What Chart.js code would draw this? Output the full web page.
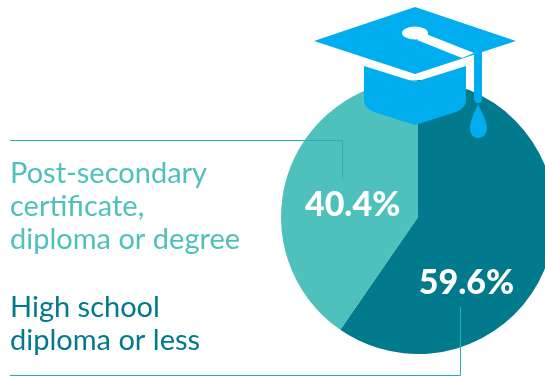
<!DOCTYPE html>
<html>
<head>
<meta charset="utf-8">
<style>
    html, body { margin: 0; padding: 0; background: #fff; overflow: hidden; }
    #wrap { position: relative; width: 545px; height: 376px; overflow: hidden; }
    /* canvas runs past the right edge so the pie can be cropped there */
    #chart { position: absolute; left: 0; top: 0; }
</style>
</head>
<body>
<div id="wrap"><canvas id="chart" width="836" height="434"></canvas></div>
<script src="https://cdn.jsdelivr.net/npm/chart.js@4/dist/chart.umd.min.js"></script>
<script>
    var categories = ['High school diploma or less', 'Post-secondary certificate, diploma or degree'];
    var shares = [59.6, 40.4];
    var sliceColors = ['#007a8c', '#4ec1bc'];

    var captionLines = [
        ['Post-secondary', 'certificate,', 'diploma or degree'],
        ['High school', 'diploma or less']
    ];
    var captionColors = ['#4ec1bc', '#007a8c'];

    var HAT_BLUE = '#00aeef';

    function drawLeaders(ctx) {
        ctx.save();
        ctx.strokeStyle = '#2aafb0';
        ctx.lineWidth = 1;
        ctx.beginPath();
        ctx.moveTo(10, 140.5);
        ctx.lineTo(342.5, 140.5);
        ctx.lineTo(342.5, 179);
        ctx.stroke();
        ctx.beginPath();
        ctx.moveTo(10, 375.5);
        ctx.lineTo(460.5, 375.5);
        ctx.lineTo(460.5, 307);
        ctx.stroke();
        ctx.restore();
    }

    function drawHat(ctx) {
        ctx.save();
        ctx.fillStyle = HAT_BLUE;

        // cap body
        ctx.beginPath();
        ctx.moveTo(364, 66);
        ctx.lineTo(415, 82);
        ctx.lineTo(466, 66);
        ctx.lineTo(466, 100);
        ctx.quadraticCurveTo(466, 108, 456, 112);
        ctx.lineTo(415, 125);
        ctx.lineTo(374, 112);
        ctx.quadraticCurveTo(364, 108, 364, 100);
        ctx.closePath();
        ctx.fill();

        // board
        ctx.beginPath();
        ctx.moveTo(415, 7);
        ctx.lineTo(516, 41);
        ctx.lineTo(415, 74);
        ctx.lineTo(314, 41);
        ctx.closePath();
        ctx.fill();

        // white cord and button cut into the board
        ctx.fillStyle = '#fff';
        ctx.beginPath();
        ctx.moveTo(426, 34);
        ctx.lineTo(474, 53);
        ctx.lineTo(462, 58);
        ctx.lineTo(417, 40);
        ctx.closePath();
        ctx.fill();
        ctx.beginPath();
        ctx.ellipse(415, 33, 13, 6.5, 0, 0, Math.PI * 2);
        ctx.fill();

        // tassel
        ctx.fillStyle = HAT_BLUE;
        ctx.beginPath();
        ctx.moveTo(474, 53);
        ctx.lineTo(482, 51);
        ctx.lineTo(482, 98);
        ctx.quadraticCurveTo(482, 103, 478, 103);
        ctx.quadraticCurveTo(474, 103, 474, 98);
        ctx.closePath();
        ctx.fill();
        ctx.beginPath();
        ctx.moveTo(478, 104);
        ctx.bezierCurveTo(481, 112, 487, 120, 487, 128);
        ctx.bezierCurveTo(487, 134, 483, 138, 478, 138);
        ctx.bezierCurveTo(473, 138, 470, 134, 470, 128);
        ctx.bezierCurveTo(470, 120, 475, 112, 478, 104);
        ctx.closePath();
        ctx.fill();
        ctx.restore();
    }

    function drawCaptions(ctx) {
        var baselines = [[183, 216, 249], [317, 350]];
        ctx.save();
        ctx.font = '29px Lato';
        ctx.textAlign = 'left';
        ctx.textBaseline = 'alphabetic';
        captionLines.forEach(function (lines, i) {
            ctx.fillStyle = captionColors[i];
            lines.forEach(function (line, j) {
                ctx.fillText(line, 10, baselines[i][j]);
            });
        });
        ctx.restore();
    }

    function drawValues(chart) {
        var ctx = chart.ctx;
        var arcs = chart.getDatasetMeta(0).data;
        // nudges away from the arc midpoint
        var nudges = [[-17, 46], [0, 8]];
        ctx.save();
        ctx.font = '900 34px Lato';
        ctx.fillStyle = '#fff';
        ctx.textAlign = 'center';
        ctx.textBaseline = 'middle';
        arcs.forEach(function (arc, i) {
            var p = arc.getCenterPoint();
            ctx.fillText(shares[i].toFixed(1) + '%', p.x + nudges[i][0], p.y + nudges[i][1]);
        });
        ctx.restore();
    }

    var decorations = {
        id: 'decorations',
        afterDraw: function (chart) {
            var ctx = chart.ctx;
            drawLeaders(ctx);
            drawHat(ctx);
            drawCaptions(ctx);
            drawValues(chart);
        }
    };

    new Chart(document.getElementById('chart'), {
        type: 'pie',
        data: {
            labels: categories,
            datasets: [{
                data: shares,
                backgroundColor: sliceColors,
                borderWidth: 0
            }]
        },
        options: {
            responsive: false,
            animation: false,
            layout: { padding: { top: 80, bottom: 80 } },
            plugins: { legend: { display: false }, tooltip: { enabled: false } }
        },
        plugins: [decorations]
    });
</script>
</body>
</html>
